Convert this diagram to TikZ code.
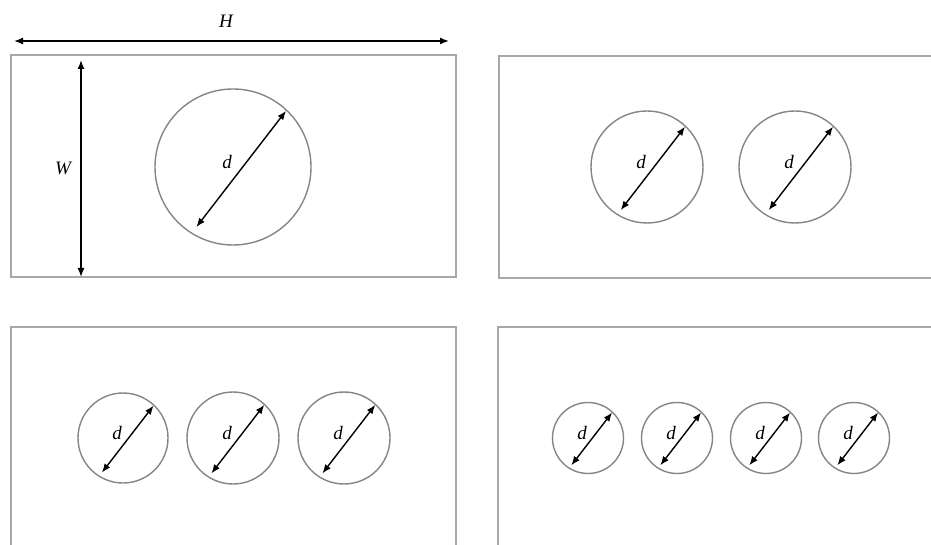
\documentclass[tikz,border=0pt]{standalone}
\usepackage{fontspec}
\setmainfont{Liberation Serif}
\usetikzlibrary{arrows.meta}
\definecolor{platecol}{HTML}{A8A8A8}
\definecolor{holecol}{HTML}{858585}
\begin{document}
\begin{tikzpicture}[x=1pt,y=-1pt,
  plate/.style={draw=platecol, line width=1.8pt},
  hole/.style={draw=holecol, line width=1.4pt},
  dimline/.style={{Latex[length=9pt,width=7pt]}-{Latex[length=9pt,width=7pt]}, line width=1.4pt, black},
  lbl/.style={font=\itshape\fontsize{19}{19}\selectfont, inner sep=0pt}
]
\useasboundingbox (0,0) rectangle (931,545);
\clip (0,0) rectangle (931,545);
% plates
\draw[plate] (11,55) rectangle (456,277);
\draw[plate] (499,56) rectangle (960,278);
\draw[plate] (11,327) rectangle (456,570);
\draw[plate] (498,327) rectangle (960,570);
% H dimension
\coordinate (hL) at (14,41);
\coordinate (hR) at (449,41);
\draw[dimline] (hL) -- (hR);
\node[lbl] (Hlabel) at (226,21) {H};
% W dimension
\coordinate (wT) at (81,60);
\coordinate (wB) at (81,277);
\draw[dimline] (wT) -- (wB);
\node[lbl] (Wlabel) at (63,168) {W};
% holes
\foreach \cx/\cy/\r/\n in {233/167/78/a, 647/167/56/b1, 795/167/56/b2,
  123/438/45/c1, 233/438/46/c2, 344/438/46/c3,
  588/438/35.5/d1, 677/438/35.5/d2, 766/438/35.5/d3, 854/438/35.5/d4}{
  \coordinate (\n) at (\cx,\cy);
  \draw[hole] (\n) circle[radius=\r];
  \coordinate (\n-ur) at ({\cx+0.68*\r},{\cy-0.72*\r});
  \coordinate (\n-ll) at ({\cx-0.47*\r},{\cy+0.77*\r});
  \draw[dimline] (\n-ll) -- (\n-ur);
  \node[lbl] (\n-lbl) at ({\cx-6},{\cy-5}) {d};
}
\end{tikzpicture}
\end{document}
